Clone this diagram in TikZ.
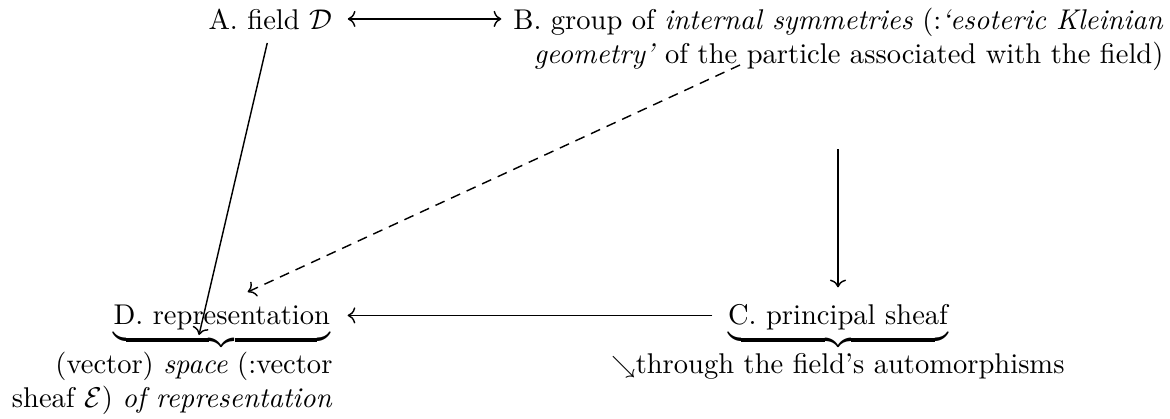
\documentclass[tikz,border=0pt]{standalone}
\usepackage{amsmath,amssymb}
\usepackage{tikz}
\usetikzlibrary{arrows.meta}

\begin{document}
\begin{tikzpicture}[
  x=0.3504pt, y=-0.3504pt,
  lbl/.style={inner sep=0pt},
  arr/.style={-{Computer Modern Rightarrow}, line width=0.5pt},
  dblarr/.style={{Computer Modern Rightarrow}-{Computer Modern Rightarrow}, line width=0.5pt},
  dasharr/.style={arr, dash pattern=on 3.5pt off 2.5pt}
]
\useasboundingbox (0,0) rectangle (1170,419);

\node[lbl, anchor=base west] (fieldA) at (208,29) {A. field $\mathcal{D}$};
\node[lbl, anchor=north east, align=right] (groupB) at (1164,7.6) {B. group of \emph{internal symmetries} (:\emph{`esoteric Kleinian}\\
  \emph{geometry'} of the particle associated with the field)};
\node[lbl, anchor=base west] (repD) at (113,324) {$\underbrace{\text{D. representation}}$};
\node[lbl, anchor=base] (sheafC) at (838,324) {$\underbrace{\text{C. principal sheaf}}$};
\node[lbl, anchor=north east, align=right] (spaceD) at (333,351.6) {(vector) \emph{space} (:vector\\
  sheaf $\mathcal{E}$) \emph{of representation}};
\node[lbl, anchor=base] (autC) at (838,373) {{\footnotesize$\searrow$}through the field's automorphisms};

\coordinate (dHit) at (199,335);
\coordinate (vTop) at (838,149);
\coordinate (bDash) at (740,65);

\draw[dblarr, shorten <=5.3pt, shorten >=4pt] (fieldA.east) -- (fieldA.east -| groupB.west);
\draw[arr, shorten <=4.7pt] (fieldA.south) -- (dHit);
\draw[dasharr, shorten >=10pt] (bDash) -- (repD.north);
\draw[arr, shorten >=5.6pt] (vTop) -- (sheafC.north);
\draw[arr, shorten <=5.3pt, shorten >=6pt] ([yshift=3pt]sheafC.base west) -- ([yshift=3pt]repD.base east);
\end{tikzpicture}
\end{document}
